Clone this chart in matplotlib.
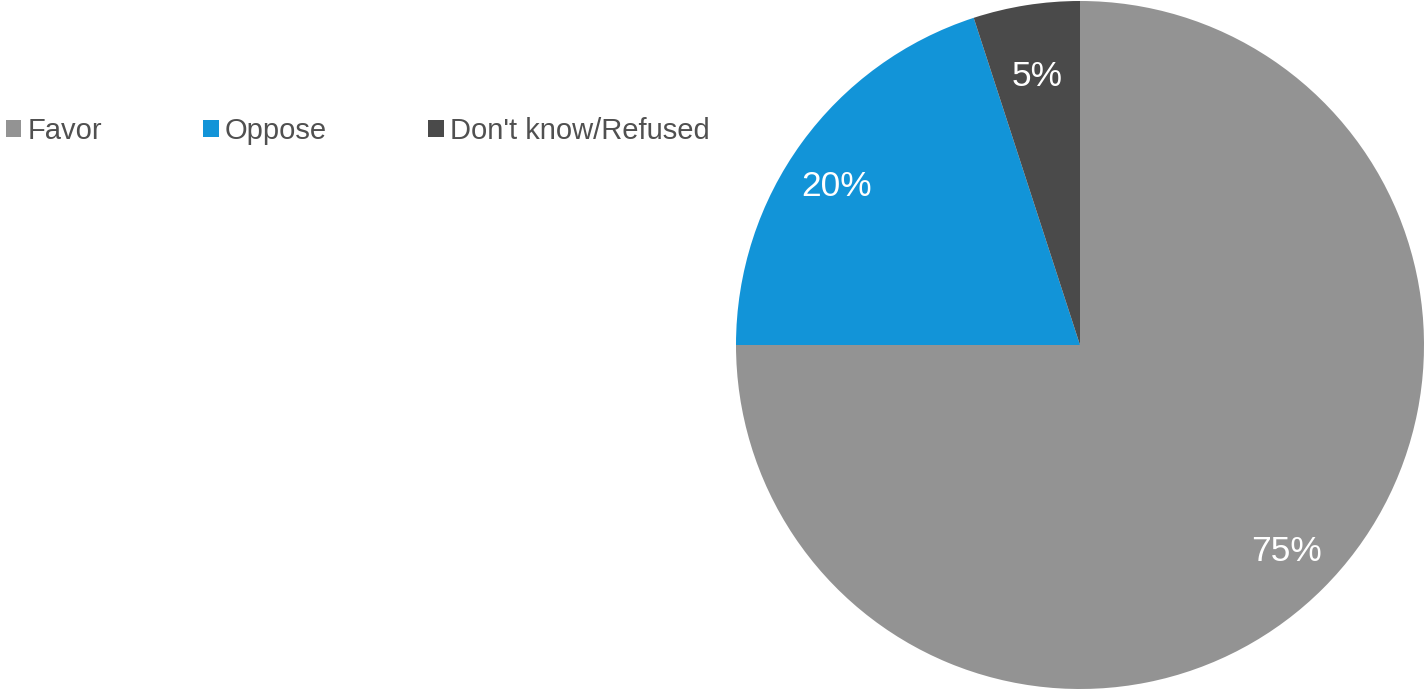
import matplotlib
matplotlib.use("Agg")
import matplotlib.pyplot as plt
from matplotlib.patches import Patch

# survey responses
labels = ["Favor", "Oppose", "Don't know/Refused"]
shares = [75, 20, 5]
colors = ["#939393", "#1294d8", "#4a4a4a"]

plt.rcParams['font.family'] = ['Liberation Sans', 'DejaVu Sans']

fig = plt.figure(figsize=(14.24, 6.89), dpi=100)

# pie sits on the right side of the figure
cx, cy, r = 1080, 345, 344
W, H = 1424, 689
ax = fig.add_axes([(cx - r) / W, (H - cy - r) / H, 2 * r / W, 2 * r / H])

wedges, texts, pcts = ax.pie(shares, colors=colors, startangle=90, counterclock=False,
                             autopct='%d%%', pctdistance=0.85, radius=1,
                             wedgeprops=dict(linewidth=0),
                             textprops=dict(color='white', fontsize=25.5))
# small slice label sits a little closer in
x5, y5 = pcts[2].get_position()
pcts[2].set_position((x5 * 0.93, y5 * 0.93))
x20, y20 = pcts[1].get_position()
pcts[1].set_position((x20 - 0.02, y20 - 0.04))
ax.set_xlim(-1, 1)
ax.set_ylim(-1, 1)
ax.set_aspect('equal')
ax.axis('off')

handles = [Patch(facecolor=c, edgecolor='none') for c in colors]
leg = fig.legend(handles, labels, loc='center left', bbox_to_anchor=(6 / W, 1 - 131 / H),
                 ncol=3, frameon=False, fontsize=21, handlelength=0.52, handleheight=0.52,
                 handletextpad=0.22, columnspacing=3.47, borderaxespad=0, borderpad=0)
for t in leg.get_texts():
    t.set_color('#505050')

fig.savefig("out.png", dpi=100)
